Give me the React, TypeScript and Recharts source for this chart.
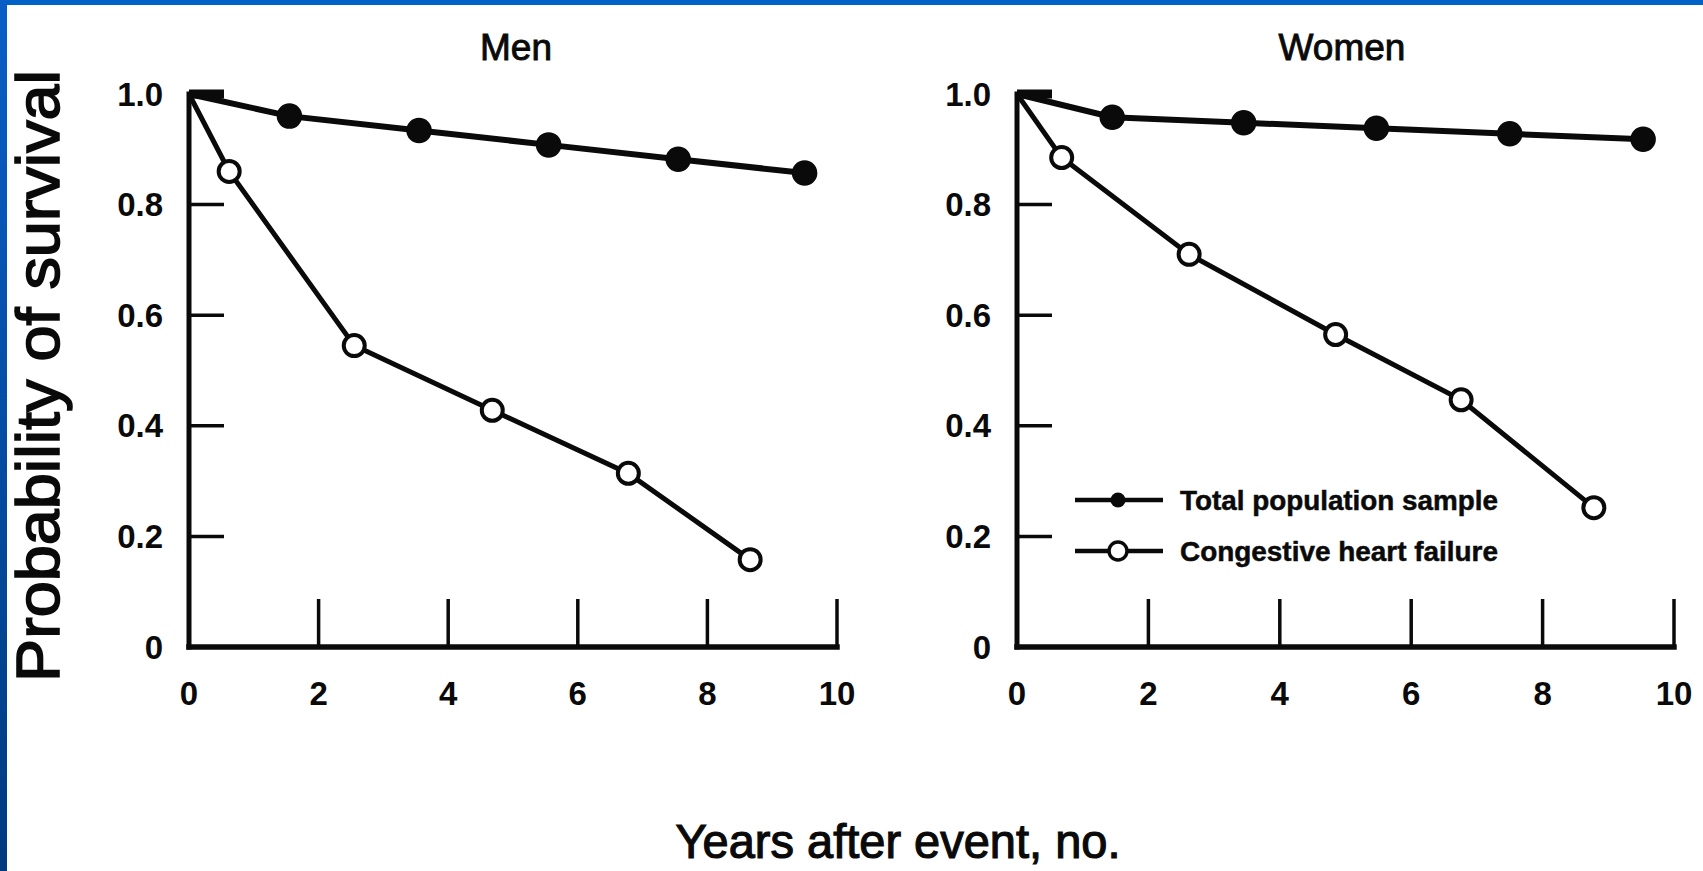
import React from 'react';
import { LineChart, Line, XAxis, YAxis, Legend } from 'recharts';

// ---- data ----
const yearTicks = [0, 2, 4, 6, 8, 10];
const probTicks = [0, 0.2, 0.4, 0.6, 0.8, 1.0];
const seriesNames = ['Total population sample', 'Congestive heart failure'];
const panelTitles = ['Men', 'Women'];
const xAxisTitle = 'Years after event, no.';
const yAxisTitle = 'Probability of survival';

const menTotalYears = [0, 1.55, 3.55, 5.55, 7.55, 9.5];
const menTotalSurv = [1.0, 0.96, 0.934, 0.908, 0.882, 0.857];
const menChfYears = [0, 0.62, 2.55, 4.68, 6.78, 8.66];
const menChfSurv = [1.0, 0.86, 0.545, 0.428, 0.314, 0.158];

const womenTotalYears = [0, 1.45, 3.45, 5.47, 7.5, 9.53];
const womenTotalSurv = [1.0, 0.958, 0.948, 0.938, 0.928, 0.918];
const womenChfYears = [0, 0.68, 2.62, 4.85, 6.76, 8.78];
const womenChfSurv = [1.0, 0.885, 0.71, 0.565, 0.447, 0.252];

// ---- styles ----
const FONT = '"Liberation Sans", Arial, Helvetica, sans-serif';
const INK = '#0a0a0a';
const H = 871;
const Y_TICK_MARGIN = 26;
const X_TICK_MARGIN = 46;

const YTick = (props: any) => {
  const { x, y, payload } = props;
  const v = payload.value;
  const axisX = x + Y_TICK_MARGIN;
  const label = v === 0 ? '0' : v.toFixed(1);
  return (
    <g>
      {v !== 0 && (
        <line x1={axisX} x2={axisX + 35} y1={y} y2={y} stroke={INK} strokeWidth={v === 1 ? 9 : 3.5} />
      )}
      <text x={x} y={y} textAnchor="end" dominantBaseline="central" fontFamily={FONT} fontWeight="bold" fontSize={33} fill={INK}>
        {label}
      </text>
    </g>
  );
};

const XTick = (props: any) => {
  const { x, y, payload } = props;
  const v = payload.value;
  const axisY = y - X_TICK_MARGIN;
  return (
    <g>
      {v !== 0 && <line x1={x} x2={x} y1={axisY} y2={axisY - 48} stroke={INK} strokeWidth={3.5} />}
      <text x={x} y={y} textAnchor="middle" dominantBaseline="central" fontFamily={FONT} fontWeight="bold" fontSize={33} fill={INK}>
        {String(v)}
      </text>
    </g>
  );
};

const filledDot = (p: any) =>
  p.index === 0 ? <g key={`f-${p.index}`} /> : <circle key={`f-${p.index}`} cx={p.cx} cy={p.cy} r={12} fill={INK} stroke={INK} strokeWidth={1.5} />;

const openDot = (p: any) =>
  p.index === 0 ? <g key={`o-${p.index}`} /> : <circle key={`o-${p.index}`} cx={p.cx} cy={p.cy} r={10.5} fill="#fff" stroke={INK} strokeWidth={4} />;

const renderLegend = () => {
  return (
    <svg width={460} height={100} style={{ overflow: 'visible' }}>
      {seriesNames.map((name, i) => {
        const cy = 22 + i * 51;
        return (
          <g key={name}>
            <line x1={0} x2={88} y1={cy} y2={cy} stroke={INK} strokeWidth={4.5} />
            {i === 0 ? (
              <circle cx={43} cy={cy} r={7.5} fill={INK} />
            ) : (
              <circle cx={43} cy={cy} r={9} fill="#fff" stroke={INK} strokeWidth={3.5} />
            )}
            <text x={105} y={cy} dominantBaseline="central" fontFamily={FONT} fontWeight="bold" fontSize={28} fill={INK} stroke={INK} strokeWidth={0.5} textLength={318} lengthAdjust="spacingAndGlyphs">
              {name}
            </text>
          </g>
        );
      })}
    </svg>
  );
};

type PanelProps = {
  totalX: number[];
  totalY: number[];
  chfX: number[];
  chfY: number[];
  width: number;
  margin: { top: number; right: number; bottom: number; left: number };
  legend?: { left: number; top: number };
};

function Panel({ totalX, totalY, chfX, chfY, width, margin, legend }: PanelProps) {
  const total = totalX.map((x, i) => ({ x, y: totalY[i] }));
  const chf = chfX.map((x, i) => ({ x, y: chfY[i] }));
  return (
    <LineChart width={width} height={H} margin={margin}>
      <XAxis
        type="number"
        dataKey="x"
        domain={[0, 10]}
        ticks={yearTicks}
        interval={0}
        height={60}
        tickSize={0}
        tickMargin={X_TICK_MARGIN}
        tickLine={false}
        tick={XTick}
        axisLine={{ stroke: INK, strokeWidth: 5.5, strokeLinecap: 'square' }}
      />
      <YAxis
        type="number"
        dataKey="y"
        domain={[0, 1]}
        ticks={probTicks}
        interval={0}
        width={60}
        tickSize={0}
        tickMargin={Y_TICK_MARGIN}
        tickLine={false}
        tick={YTick}
        axisLine={{ stroke: INK, strokeWidth: 5, strokeLinecap: 'square' }}
      />
      <Line
        data={total}
        dataKey="y"
        name={seriesNames[0]}
        type="linear"
        stroke={INK}
        strokeWidth={6}
        dot={filledDot}
        activeDot={false}
        isAnimationActive={false}
      />
      <Line
        data={chf}
        dataKey="y"
        name={seriesNames[1]}
        type="linear"
        stroke={INK}
        strokeWidth={5}
        dot={openDot}
        activeDot={false}
        isAnimationActive={false}
      />
      {legend && (
        <Legend
          layout="vertical"
          align="center"
          verticalAlign="middle"
          content={renderLegend}
          wrapperStyle={{ position: 'absolute', left: legend.left, top: legend.top, width: 460, height: 100 }}
        />
      )}
    </LineChart>
  );
}

export default function App() {
  return (
    <div style={{ position: 'absolute', left: 0, top: 0, width: 1703, height: H, background: '#fff', overflow: 'hidden' }}>
      <div style={{ position: 'absolute', left: 0, top: 0, width: 1703, height: 5, background: '#0062c6' }} />
      <div style={{ position: 'absolute', left: 0, top: 0, width: 7, height: H, background: 'linear-gradient(#0a5ec6, #003a80)' }} />

      <div style={{ position: 'absolute', left: 0, top: 0 }}>
        <Panel
          totalX={menTotalYears}
          totalY={menTotalSurv}
          chfX={menChfYears}
          chfY={menChfSurv}
          width={880}
          margin={{ top: 94, right: 880 - 837, bottom: H - 647 - 60, left: 189 - 60 }}
        />
      </div>
      <div style={{ position: 'absolute', left: 850, top: 0 }}>
        <Panel
          totalX={womenTotalYears}
          totalY={womenTotalSurv}
          chfX={womenChfYears}
          chfY={womenChfSurv}
          width={853}
          margin={{ top: 94, right: 853 - (1674 - 850), bottom: H - 647 - 60, left: 1017 - 850 - 60 }}
          legend={{ left: 1075 - 850, top: 478 }}
        />
      </div>

      <svg width={1703} height={H} style={{ position: 'absolute', left: 0, top: 0, pointerEvents: 'none' }}>
        <text x={516} y={60} textAnchor="middle" fontFamily={FONT} fontSize={37} fill={INK} stroke={INK} strokeWidth={0.9}>{panelTitles[0]}</text>
        <text x={1342} y={60} textAnchor="middle" fontFamily={FONT} fontSize={37} fill={INK} stroke={INK} strokeWidth={0.9}>{panelTitles[1]}</text>
        <text
          transform="translate(59,376) rotate(-90)"
          textAnchor="middle"
          fontFamily={FONT}
          fontSize={61}
          fill={INK}
          stroke={INK}
          strokeWidth={1.6}
          textLength={612}
          lengthAdjust="spacingAndGlyphs"
        >
          {yAxisTitle}
        </text>
        <text
          x={898}
          y={858}
          textAnchor="middle"
          fontFamily={FONT}
          fontSize={49}
          fill={INK}
          stroke={INK}
          strokeWidth={1.2}
          textLength={445}
          lengthAdjust="spacingAndGlyphs"
        >
          {xAxisTitle}
        </text>
      </svg>
    </div>
  );
}
